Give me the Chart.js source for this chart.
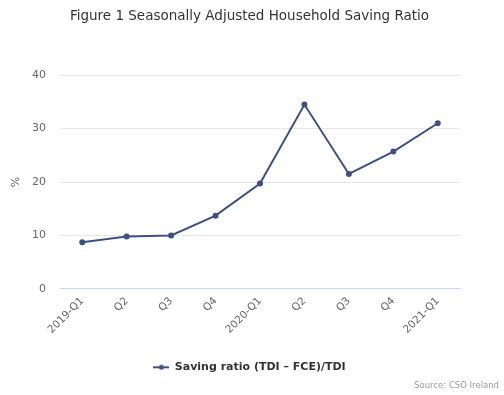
<!DOCTYPE html>
<html>
<head>
<meta charset="utf-8">
<style>
html,body{margin:0;padding:0;background:#fff;}
#wrap{position:relative;width:504px;height:395px;}
</style>
<script src="https://cdn.jsdelivr.net/npm/chart.js@4.4.1/dist/chart.umd.min.js"></script>
</head>
<body>
<div id="wrap"><canvas id="c" width="504" height="395"></canvas></div>
<script>
const categories = ["2019-Q1","Q2","Q3","Q4","2020-Q1","Q2","Q3","Q4","2021-Q1"];
const savingRatio = [8.7, 9.8, 10.0, 13.7, 19.7, 34.5, 21.5, 25.7, 31.0];
const yTicks = [0, 10, 20, 30, 40];
const titleText = "Figure 1 Seasonally Adjusted Household Saving Ratio";
const seriesName = "Saving ratio (TDI \u2013 FCE)/TDI";
const sourceText = "Source: CSO Ireland";
const FONT = "'DejaVu Sans', Verdana, sans-serif";
const LINE_COLOR = '#3f5080';

Chart.defaults.font.family = FONT;
Chart.defaults.animation = false;

// legend symbol: short line with a dot in the middle
const sym = document.createElement('canvas');
sym.width = 16; sym.height = 6;
(function(){
  const g = sym.getContext('2d');
  g.strokeStyle = LINE_COLOR; g.lineWidth = 2;
  g.beginPath(); g.moveTo(0, 3); g.lineTo(16, 3); g.stroke();
  g.fillStyle = LINE_COLOR;
  g.beginPath(); g.arc(8, 3, 2.5, 0, Math.PI * 2); g.fill();
})();

new Chart(document.getElementById('c'), {
  type: 'line',
  data: {
    labels: categories,
    datasets: [{
      label: seriesName,
      data: savingRatio,
      borderColor: LINE_COLOR,
      backgroundColor: LINE_COLOR,
      borderWidth: 2,
      pointRadius: 2,
      pointHoverRadius: 3,
      tension: 0,
      fill: false,
      yAxisID: 'y'
    }]
  },
  options: {
    responsive: false,
    maintainAspectRatio: false,
    layout: { padding: { left: 0, right: 5, top: 0, bottom: 4 } },
    plugins: {
      title: {
        display: true,
        text: titleText,
        color: '#333',
        font: { size: 13.5, weight: 'normal', family: FONT },
        padding: { top: 8, bottom: 51 }
      },
      subtitle: {
        display: true,
        text: sourceText,
        position: 'bottom',
        align: 'end',
        color: '#999',
        font: { size: 8.5, weight: 'normal', family: FONT },
        padding: { top: -2, bottom: 0 }
      },
      legend: {
        position: 'bottom',
        labels: {
          color: '#333',
          font: { size: 11, weight: 'bold', family: FONT },
          usePointStyle: true,
          pointStyleWidth: 16,
          boxWidth: 16,
          padding: 6,
          generateLabels: (chart) => {
            const items = Chart.defaults.plugins.legend.labels.generateLabels(chart);
            items.forEach(it => { it.pointStyle = sym; });
            return items;
          }
        }
      },
      tooltip: { enabled: false }
    },
    scales: {
      x: {
        offset: true,
        grid: { display: false, drawTicks: false },
        border: { display: true, color: '#ccd6eb', width: 1, z: 1 },
        ticks: {
          color: '#666',
          font: { size: 10.5, family: FONT },
          maxRotation: 45,
          minRotation: 45,
          autoSkip: false,
          padding: 6
        },
        afterFit: (s) => { s.height = 67; }
      },
      y: {
        position: 'left',
        min: 0,
        max: 40,
        afterBuildTicks: (s) => { s.ticks = yTicks.map(v => ({ value: v })); },
        grid: {
          color: (ctx) => (ctx.tick && ctx.tick.value === 0) ? 'rgba(0,0,0,0)' : '#e6e6e6',
          drawTicks: false
        },
        border: { display: false },
        ticks: { color: '#666', font: { size: 11, family: FONT }, padding: 14 },
        title: {
          display: true,
          text: '%',
          color: '#666',
          font: { size: 11, family: FONT },
          padding: { top: 10, bottom: 0 }
        },
        afterFit: (s) => { s.width = 60; }
      },
      yRight: {
        position: 'right',
        display: true,
        min: 0,
        max: 40,
        grid: { display: false, drawTicks: false },
        border: { display: false },
        ticks: { display: false },
        afterFit: (s) => { s.width = 39; }
      }
    }
  }
});
</script>
</body>
</html>
